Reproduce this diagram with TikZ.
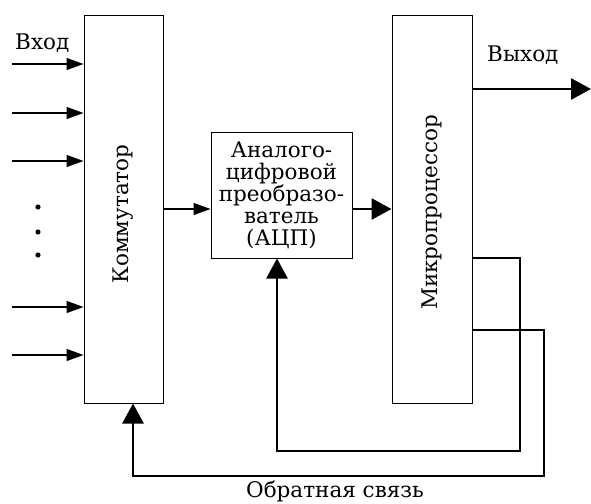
\documentclass[tikz,border=0pt]{standalone}
\usepackage{fontspec}
\setmainfont{DejaVu Serif}
\usetikzlibrary{arrows.meta}
\begin{document}
\begin{tikzpicture}[x=1pt,y=-1pt,
  box/.style={draw,line width=1pt,inner sep=0pt},
  lbl/.style={font=\fontsize{21.5}{22}\selectfont,inner sep=0pt},
  thinarr/.style={line width=1.3pt,-{Triangle[length=17pt,width=12pt]}},
  thickarr/.style={line width=2.8pt,-{Triangle[length=20pt,width=21pt]}},
  fb/.style={line width=2.8pt}]
\useasboundingbox (0,0) rectangle (591,503);
% boxes
\node[box,minimum width=79pt,minimum height=387pt] (comm) at (123.5,209.5) {};
\node[box,minimum width=141pt,minimum height=126pt] (adc) at (281.5,195) {};
\node[box,minimum width=80pt,minimum height=387pt] (mp) at (432,209.5) {};
\node[lbl,rotate=90] (commt) at (123.5,214) {Коммутатор};
\node[lbl,rotate=90] (mpt) at (431.5,212.5) {Микропроцессор};
\node[lbl,align=center] (adct) at (adc.center) {Аналого-\\цифровой\\преобразо-\\ватель\\(АЦП)};
% inputs
\foreach \i/\y in {1/64,2/113,3/161,4/307,5/355}{
  \coordinate (in\i) at (12,\y);
  \draw[thinarr] (in\i) -- (comm.west |- in\i);
}
\node[lbl,anchor=base west] (vhod) at (15,50) {Вход};
\foreach \i/\y in {1/207,2/232,3/255}{
  \fill (38,\y) circle (2.6pt) coordinate (dot\i);
}
% main chain
\draw[thinarr] (comm.east |- 0,209) -- (adc.west |- 0,209);
\draw[thickarr] (adc.east |- 0,209) -- (mp.west |- 0,209);
\coordinate (out) at (591,89);
\draw[thickarr] (mp.east |- out) -- (out);
\node[lbl,anchor=base west] (vyhod) at (487,62) {Выход};
% feedback
\coordinate (fa1) at (mp.east |- 0,258);
\coordinate (fa2) at (520,258);
\coordinate (fa3) at (520,451);
\coordinate (fa4) at (277,451);
\draw[fb] (fa1) -- (fa2) -- (fa3) -- (fa4) -- (fa4 |- 0,300);
\draw[thickarr] (fa4 |- 0,300) -- (fa4 |- adc.south);
\coordinate (fb1) at (mp.east |- 0,330);
\coordinate (fb2) at (544,330);
\coordinate (fb3) at (544,476);
\coordinate (fb4) at (133,476);
\draw[fb] (fb1) -- (fb2) -- (fb3) -- (fb4) -- (fb4 |- 0,440);
\draw[thickarr] (fb4 |- 0,440) -- (fb4 |- comm.south);
\node[lbl,anchor=base] (obr) at (335,497) {Обратная связь};
\end{tikzpicture}
\end{document}
